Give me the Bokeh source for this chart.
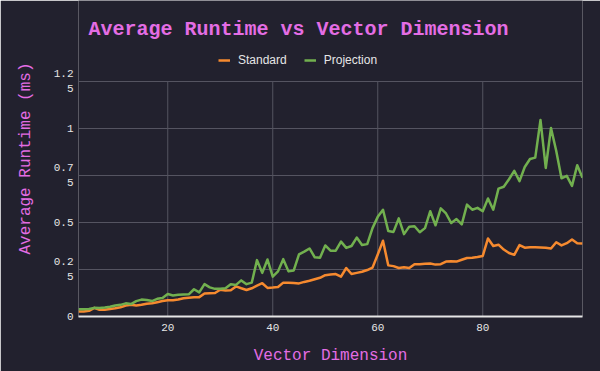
from bokeh.plotting import figure
from bokeh.models import (Range1d, FixedTicker, Legend, LegendItem, Label)
from bokeh.embed import file_html
from bokeh.resources import INLINE

dims = list(range(3, 100))
standard = [0.026, 0.026, 0.030, 0.046, 0.036, 0.036, 0.040, 0.044, 0.049, 0.058,
            0.063, 0.058, 0.062, 0.068, 0.070, 0.076, 0.082, 0.086, 0.087, 0.090,
            0.097, 0.100, 0.102, 0.103, 0.122, 0.124, 0.125, 0.142, 0.138, 0.140,
            0.160, 0.150, 0.141, 0.150, 0.164, 0.177, 0.152, 0.154, 0.157, 0.180,
            0.180, 0.178, 0.176, 0.184, 0.190, 0.198, 0.206, 0.220, 0.224, 0.226,
            0.212, 0.258, 0.226, 0.232, 0.238, 0.247, 0.260, 0.330, 0.403, 0.272,
            0.268, 0.258, 0.262, 0.258, 0.278, 0.278, 0.280, 0.282, 0.276, 0.278,
            0.292, 0.294, 0.292, 0.302, 0.311, 0.312, 0.316, 0.322, 0.415, 0.375,
            0.382, 0.356, 0.338, 0.328, 0.380, 0.366, 0.368, 0.368, 0.367, 0.366,
            0.362, 0.395, 0.378, 0.390, 0.410, 0.390, 0.388]
projection = [0.039, 0.039, 0.040, 0.046, 0.045, 0.048, 0.052, 0.058, 0.062, 0.070,
              0.066, 0.082, 0.090, 0.088, 0.082, 0.094, 0.098, 0.120, 0.112, 0.116,
              0.117, 0.118, 0.145, 0.128, 0.172, 0.155, 0.147, 0.148, 0.150, 0.172,
              0.168, 0.192, 0.172, 0.180, 0.300, 0.232, 0.303, 0.212, 0.240, 0.305,
              0.240, 0.245, 0.330, 0.345, 0.362, 0.315, 0.312, 0.378, 0.350, 0.350,
              0.398, 0.365, 0.375, 0.420, 0.380, 0.385, 0.470, 0.530, 0.568, 0.455,
              0.450, 0.522, 0.438, 0.478, 0.480, 0.448, 0.470, 0.560, 0.485, 0.575,
              0.548, 0.497, 0.518, 0.490, 0.595, 0.568, 0.578, 0.560, 0.628, 0.568,
              0.680, 0.690, 0.730, 0.775, 0.720, 0.795, 0.838, 0.845, 1.045, 0.790,
              1.003, 0.880, 0.735, 0.748, 0.695, 0.805, 0.738]

series_names = ["Standard", "Projection"]
series_colors = ["#f68a2f", "#72b04f"]
x_ticks = [20, 40, 60, 80]
y_ticks = [0, 0.25, 0.5, 0.75, 1.0, 1.25]
y_tick_labels = ["0", "0.2\n5", "0.5", "0.7\n5", "1", "1.2\n5"]
title_text = "Average Runtime vs Vector Dimension"

BG = "#22212e"
PINK = "#e46de4"
TICK = "#e6e6e6"
GRID = "#555461"
MONO = "Liberation Mono"

# pixel layout of the chart
W, H = 600, 371
F_LEFT, F_RIGHT, F_BOTTOM = 78, 582, 316   # frame edges (px from top-left)
TOP_TICK_PX = 81                           # pixel row of the top gridline
XMIN, XMAX = 3, 99
YTOP = y_ticks[-1]
# frame extends to the very top so title/legend can live inside it
YMAX = YTOP * F_BOTTOM / (F_BOTTOM - TOP_TICK_PX)

p = figure(width=W, height=H, output_backend="svg", toolbar_location=None,
           x_range=Range1d(XMIN, XMAX), y_range=Range1d(0, YMAX),
           background_fill_color=BG, border_fill_color=BG, outline_line_color=None,
           min_border_left=F_LEFT, min_border_right=W - F_RIGHT, min_border_top=0,
           min_border_bottom=H - F_BOTTOM)

# vertical gridlines, limited to the value area (0 .. top tick)
p.segment(x0=x_ticks, y0=[0] * len(x_ticks), x1=x_ticks, y1=[YTOP] * len(x_ticks),
          line_color=GRID, line_width=1)

renderers = []
for vals, name, col in zip([standard, projection], series_names, series_colors):
    r = p.line(dims, vals, line_color=col, line_width=2.5, line_join="round")
    renderers.append(r)

def px_to_x(px):
    return XMIN + (px - F_LEFT) * (XMAX - XMIN) / (F_RIGHT - F_LEFT)

def py_to_y(py):
    return (F_BOTTOM - py) * YMAX / F_BOTTOM

p.add_layout(Label(x=px_to_x(298), y=py_to_y(29), text=title_text,
                   text_align="center", text_baseline="middle",
                   text_font=MONO, text_font_size="20px", text_font_style="bold",
                   text_color=PINK))

legend = Legend(items=[LegendItem(label=n, renderers=[r]) for n, r in zip(series_names, renderers)],
                orientation="horizontal", location=(218 - F_LEFT, F_BOTTOM - 67),
                glyph_width=12, glyph_height=4, label_height=14, label_standoff=8,
                spacing=17, padding=0, margin=0,
                label_text_font="Liberation Sans", label_text_font_size="12px",
                label_text_color=TICK, background_fill_alpha=0, border_line_color=None)
p.add_layout(legend, "center")

p.xaxis.ticker = FixedTicker(ticks=x_ticks)
p.yaxis.ticker = FixedTicker(ticks=y_ticks)
p.yaxis.major_label_overrides = {t: l for t, l in zip(y_ticks, y_tick_labels)}

for ax in [p.xaxis[0], p.yaxis[0]]:
    ax.major_tick_line_color = None
    ax.minor_tick_line_color = None
    ax.major_tick_out = 0
    ax.major_tick_in = 0
    ax.major_label_text_font = MONO
    ax.major_label_text_font_size = "11px"
    ax.major_label_text_color = TICK
    ax.axis_label_text_font = MONO
    ax.axis_label_text_font_size = "16px"
    ax.axis_label_text_font_style = "normal"
    ax.axis_label_text_color = PINK

p.xaxis.axis_label = "Vector Dimension"
p.yaxis.axis_label = "Average Runtime (ms)"
p.xaxis.axis_line_color = "#e6e6e6"
p.xaxis.axis_line_width = 2
p.yaxis.axis_line_color = None
p.xaxis.major_label_standoff = 7
p.xaxis.axis_label_standoff = 13
p.yaxis.major_label_standoff = 5
p.yaxis.axis_label_standoff = 16

p.xgrid.visible = False
p.ygrid.ticker = FixedTicker(ticks=y_ticks)
p.ygrid.grid_line_color = GRID
p.ygrid.grid_line_width = 1

open("out.html", "w").write(file_html(p, INLINE))
